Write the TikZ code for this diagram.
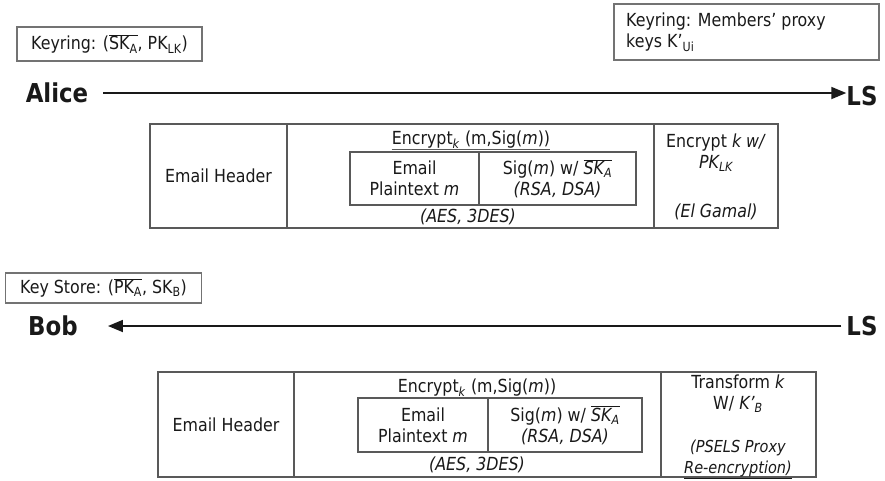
\documentclass[tikz,border=0pt]{standalone}
\usepackage{fontspec}
\setmainfont{DejaVu Sans}[FakeStretch=0.88]
\usetikzlibrary{arrows.meta}
\newcommand{\sbs}[1]{\textsubscript{#1}}
\newcommand{\ovl}[1]{$\overline{\hbox{#1}}$}
\begin{document}
\begin{tikzpicture}[x=1pt,y=-1pt,
  every node/.style={text=black!90,font=\fontsize{18}{21}\selectfont},
  cellbox/.style={draw=black!65,line width=1.1pt,inner sep=0pt},
  keybox/.style={draw=black!55,line width=1.1pt,inner sep=0pt},
  txt/.style={inner sep=0pt,align=center},
  actor/.style={inner sep=0pt,font=\fontsize{26}{29}\selectfont\bfseries},
  msg/.style={line width=1.8pt,draw=black!90,-{Triangle[length=15pt,width=12pt]}},
  uline/.style={draw=black!65,line width=0.9pt}]
\useasboundingbox (0,0) rectangle (885,480);

% ---------- top part ----------
\node[keybox,minimum width=185,minimum height=34] (kr1) at (109.5,44) {};
\node[txt] (kr1t) at (kr1) {Keyring: (\ovl{SK\sbs{A}}, PK\sbs{LK})};

\node[keybox,minimum width=265,minimum height=56] (kr2) at (746.5,32) {};
\node[txt,align=left,anchor=west] (kr2t) at (626,32) {Keyring: Members’ proxy\\keys K’\sbs{Ui}};

\node[actor] (alice) at (57,93) {Alice};
\node[actor] (ls1) at (862,96) {LS};
\draw[msg,shorten <=15pt] (alice.east) -- (alice.east -| ls1.west);

\node[cellbox,minimum width=137,minimum height=104] (hdr1) at (218.5,176) {};
\node[cellbox,minimum width=367,minimum height=104] (enc1) at (470.5,176) {};
\node[cellbox,minimum width=124,minimum height=104] (kc1) at (716,176) {};
\node[cellbox,minimum width=129,minimum height=53] (pt1) at (414.5,178.5) {};
\node[cellbox,minimum width=157,minimum height=53] (sig1) at (557.5,178.5) {};

\node[txt] (hdr1t) at (hdr1) {Email Header};
\node[txt] (enc1t) at (471,140) {Encrypt\sbs{\textit{k}} (m,Sig(\textit{m}))};
\draw[uline] ([yshift=-1pt]enc1t.south west) -- ([yshift=-1pt]enc1t.south east);
\node[txt] (pt1t) at (pt1) {Email\\Plaintext \textit{m}};
\node[txt] (sig1t) at (sig1) {Sig(\textit{m}) w/ \textit{\ovl{SK\sbs{A}}}\\\textit{(RSA, DSA)}};
\node[txt] (aes1) at (468,217) {\textit{(AES, 3DES)}};
\node[txt] (kc1a) at (716,153) {Encrypt \textit{k w/}\\\textit{PK\sbs{LK}}};
\node[txt] (kc1b) at (716,212) {\textit{(El Gamal)}};

% ---------- bottom part ----------
\node[keybox,minimum width=196,minimum height=30] (ks) at (103.5,288) {};
\node[txt] (kst) at (ks) {Key Store: (\ovl{PK\sbs{A}}, SK\sbs{B})};

\node[actor] (bob) at (53,326) {Bob};
\node[actor] (ls2) at (862,326) {LS};
\draw[msg,shorten <=5pt,shorten >=30pt] (ls2.west) -- (ls2.west -| bob.east);

\node[cellbox,minimum width=136,minimum height=105] (hdr2) at (226,424.5) {};
\node[cellbox,minimum width=367,minimum height=105] (enc2) at (477.5,424.5) {};
\node[cellbox,minimum width=155,minimum height=105] (kc2) at (738.5,424.5) {};
\node[cellbox,minimum width=130,minimum height=54] (pt2) at (423,425) {};
\node[cellbox,minimum width=154,minimum height=54] (sig2) at (565,425) {};

\node[txt] (hdr2t) at (hdr2) {Email Header};
\node[txt] (enc2t) at (477,388) {Encrypt\sbs{\textit{k}} (m,Sig(\textit{m}))};
\draw[uline] ([yshift=-1pt]enc2t.south west) -- ([yshift=-1pt]enc2t.south east);
\node[txt] (pt2t) at (pt2) {Email\\Plaintext \textit{m}};
\node[txt] (sig2t) at (sig2) {Sig(\textit{m}) w/ \textit{\ovl{SK\sbs{A}}}\\\textit{(RSA, DSA)}};
\node[txt] (aes2) at (477,465) {\textit{(AES, 3DES)}};
\node[txt] (kc2a) at (738,394) {Transform \textit{k}\\W/ \textit{K’\sbs{B}}};
\node[txt,font=\fontsize{16.5}{21}\selectfont] (kc2b) at (738,459) {\textit{(PSELS Proxy}\\\textit{\underline{Re-encryption)}}};
\end{tikzpicture}
\end{document}
